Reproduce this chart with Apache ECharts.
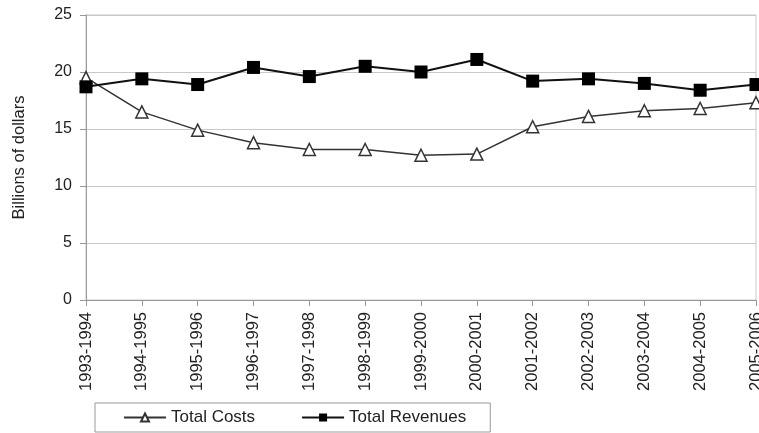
<!DOCTYPE html>
<html><head><meta charset="utf-8">
<script src="https://cdn.jsdelivr.net/npm/echarts@6/dist/echarts.min.js"></script>
<style>html,body{margin:0;padding:0;background:#fff}#c{width:759px;height:433px}</style>
</head><body><div id="c"></div>
<script>
var categories = ['1993-1994','1994-1995','1995-1996','1996-1997','1997-1998','1998-1999','1999-2000','2000-2001','2001-2002','2002-2003','2003-2004','2004-2005','2005-2006'];
var totalCosts = [19.5,16.5,14.9,13.8,13.2,13.2,12.7,12.8,15.2,16.1,16.6,16.8,17.3];
var totalRevenues = [18.7,19.4,18.9,20.4,19.6,20.5,20.0,21.1,19.2,19.4,19.0,18.4,18.9];
var yTicks = [0,5,10,15,20,25];
var chart = echarts.init(document.getElementById('c'));
chart.setOption({
  animation:false,
  textStyle:{fontFamily:'Liberation Sans, Arial, sans-serif'},
  grid:{left:86,right:3,top:15,bottom:133,show:true,borderColor:'#c8c8c8',borderWidth:1,outerBoundsMode:'none',containLabel:false},
  legend:{
    left:95, top:403,
    padding:[6,24,6,28], itemGap:46,
    borderColor:'#999', borderWidth:1,
    itemWidth:42, itemHeight:10,
    textStyle:{fontSize:17,color:'#222'},
    data:['Total Costs','Total Revenues']
  },
  xAxis:{
    type:'category', data:categories, boundaryGap:false,
    axisLine:{lineStyle:{color:'#999'}},
    axisTick:{show:true,length:6,alignWithLabel:true,lineStyle:{color:'#999'}},
    axisLabel:{rotate:90,fontSize:16.5,color:'#222',margin:12,interval:0},
    splitLine:{show:false}
  },
  yAxis:{
    type:'value', min:0, max:25, interval:5,
    name:'Billions of dollars', nameLocation:'middle', nameGap:58, nameRotate:90,
    nameTextStyle:{fontSize:16.5,color:'#222'},
    axisLine:{show:true,lineStyle:{color:'#999'}},
    axisTick:{show:true,length:6,lineStyle:{color:'#999'}},
    axisLabel:{fontSize:16,color:'#222',margin:14,formatter:function(v){return yTicks.indexOf(v)>=0?String(v):'';}},
    splitLine:{lineStyle:{color:'#c8c8c8'}}
  },
  series:[
    {name:'Total Costs',type:'line',data:totalCosts,symbol:'triangle',symbolSize:12,
     lineStyle:{color:'#333',width:1.5},itemStyle:{color:'#fff',borderColor:'#333',borderWidth:1.5}},
    {name:'Total Revenues',type:'line',data:totalRevenues,symbol:'rect',symbolSize:13,
     lineStyle:{color:'#111',width:2},itemStyle:{color:'#000',borderColor:'#000',borderWidth:0}}
  ]
});
</script></body></html>
